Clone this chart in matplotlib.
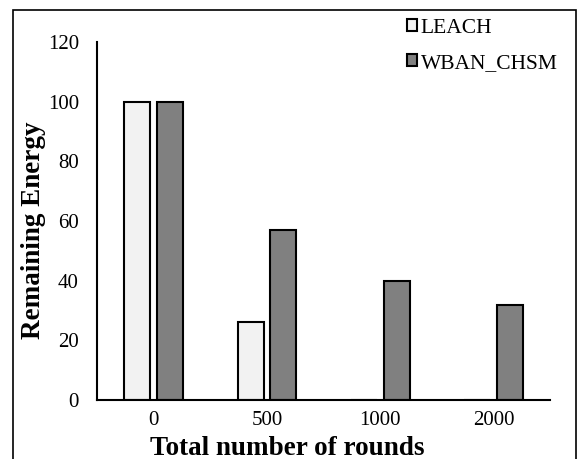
import numpy as np
import matplotlib.pyplot as plt
from matplotlib.patches import Rectangle

rounds = ["0", "500", "1000", "2000"]
leach = [100, 26, 0, 0]
wban_chsm = [100, 57, 40, 32]

plt.rcParams['font.family'] = ['Liberation Serif', 'DejaVu Serif']

fig = plt.figure(figsize=(5.81, 4.59), dpi=100)
ax = fig.add_axes([0.167, 0.1285, 0.78, 0.78])

x = np.arange(len(rounds))
w = 0.23
ax.bar(x - 0.145, leach, w, color='#f2f2f2', edgecolor='black', linewidth=1.5, label='LEACH')
ax.bar(x + 0.145, wban_chsm, w, color='#808080', edgecolor='black', linewidth=1.5, label='WBAN_CHSM')

ax.set_xlim(-0.5, len(rounds) - 0.5)
ax.set_ylim(0, 120)
ax.set_yticks(range(0, 121, 20))
ax.set_xticks(x)
ax.set_xticklabels(rounds)
ax.tick_params(length=0, labelsize=15, pad=8)
ax.tick_params(axis='y', pad=13)
for s in ['top', 'right']:
    ax.spines[s].set_visible(False)
for s in ['left', 'bottom']:
    ax.spines[s].set_linewidth(1.5)

ax.set_xlabel('Total number of rounds', fontsize=19.5, fontweight='bold')
ax.set_ylabel('Remaining Energy', fontsize=19.5, fontweight='bold')
# label centres in pixels: x label at (287, 448), y label at (33, 230)
ax.xaxis.set_label_coords((287 - 97) / 453, -(448 - 400) / 358)
ax.xaxis.label.set_va('center')
ax.yaxis.set_label_coords(-(97 - 33) / 453, (400 - 230) / 358)
ax.yaxis.label.set_va('center')

leg = fig.legend(loc='upper left', bbox_to_anchor=(0.700, 0.959), frameon=False,
                 fontsize=15.5, handlelength=0.5, handleheight=0.5, handletextpad=0.15,
                 labelspacing=0.75, borderpad=0, borderaxespad=0)

fig.patches.append(Rectangle((13 / 581, -0.1), 563 / 581, 1.1 - 10 / 459,
                             transform=fig.transFigure, fill=False,
                             edgecolor='black', linewidth=1.2))

fig.savefig('out.png', dpi=100)
